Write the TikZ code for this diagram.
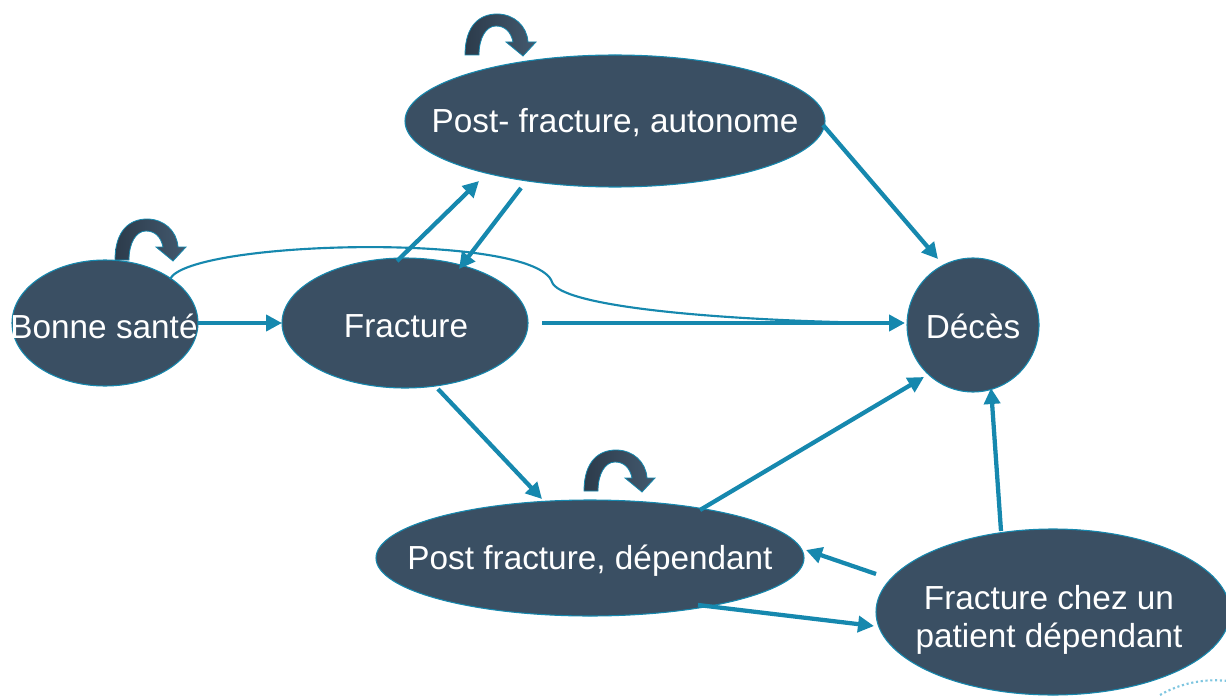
\documentclass[tikz,border=0pt]{standalone}
\usepackage{fontspec}
\setmainfont{Liberation Sans}
\usetikzlibrary{arrows.meta,shapes.geometric}
\definecolor{nodefill}{HTML}{3A4F63}
\definecolor{teal}{HTML}{1688AE}
\definecolor{loopdark}{HTML}{2C3B4B}
\definecolor{looplight}{HTML}{43596E}
\definecolor{dotc}{HTML}{7FC6E0}
\tikzset{
  state/.style={ellipse, draw=teal, line width=0.8pt, fill=nodefill, text=white, inner sep=0pt,
    font=\fontsize{25}{29}\selectfont, align=center},
  statetext/.style={text=white, inner sep=0pt, font=\fontsize{25}{29}\selectfont},
  flow/.style={draw=teal, line width=3.2pt, -{Triangle[length=12pt,width=12pt]}},
  thinflow/.style={draw=teal, line width=1.6pt},
  loopbody/.style={draw=teal, line width=0.6pt, left color=loopdark, right color=looplight},
  selfloop/.pic={
    \path[loopbody] (0,0) .. controls (0,-30) and (15,-41) .. (32,-41)
      .. controls (49,-41) and (62,-29) .. (63,-13) -- (71,-13) -- (58,1) -- (41,-13) -- (48,-13)
      .. controls (46,-23) and (40,-29) .. (31,-29) .. controls (21,-29) and (14,-17) .. (14,0) -- cycle;
  }
}
\begin{document}
\begin{tikzpicture}[x=0.75pt,y=-0.75pt]
\useasboundingbox (0,0) rectangle (1226,695);

% nodes
\node[state, minimum width=186*0.75pt, minimum height=126*0.75pt] (bs) at (105,323) {};
\node[state, minimum width=246*0.75pt, minimum height=130*0.75pt] (fr) at (405,323) {};
\node[state, minimum width=420*0.75pt, minimum height=132*0.75pt] (pa) at (615,121) {};
\node[state, minimum width=132*0.75pt, minimum height=134*0.75pt] (de) at (973,325) {};
\node[state, minimum width=428*0.75pt, minimum height=116*0.75pt] (pd) at (590,558) {};
\node[state, minimum width=354*0.75pt, minimum height=166*0.75pt] (fc) at (1053,612) {};
\node[statetext] (bst) at (104,326) {Bonne santé};
\node[statetext] (frt) at (406,326) {Fracture};
\node[statetext] (pat) at (615,123) {Post- fracture, autonome};
\node[statetext] (det) at (973,326) {Décès};
\node[statetext] (pdt) at (590,561) {Post fracture, dépendant};
\node[statetext, align=center] (fct) at (1049,620) {Fracture chez un\\patient dépendant};

% self loops
\pic at (115,260) {selfloop};
\pic at (465,55) {selfloop};
\pic at (584,491) {selfloop};

% thin curved line
\coordinate (c0) at (170,279);
\coordinate (c1) at (552,282);
\coordinate (c2) at (880,323);
\draw[thinflow] (c0) .. controls (190,240) and (535,232) .. (c1) .. controls (560,305) and (700,320) .. (c2);

% connectors
\coordinate (a1s) at (198,323); \coordinate (a1e) at (282,323);
\draw[flow] (a1s) -- (a1e);
\coordinate (a2s) at (542,323); \coordinate (a2e) at (905,323);
\draw[flow] (a2s) -- (a2e);
\coordinate (a3s) at (397,261); \coordinate (a3e) at (479,181);
\draw[flow] (a3s) -- (a3e);
\coordinate (a4s) at (521,188); \coordinate (a4e) at (459,269);
\draw[flow] (a4s) -- (a4e);
\coordinate (a5s) at (823,125); \coordinate (a5e) at (938,259);
\draw[flow] (a5s) -- (a5e);
\coordinate (a6s) at (438,389); \coordinate (a6e) at (542,499);
\draw[flow] (a6s) -- (a6e);
\coordinate (a7s) at (700,510); \coordinate (a7e) at (924,377);
\draw[flow] (a7s) -- (a7e);
\coordinate (a8s) at (1001,531); \coordinate (a8e) at (991,388);
\draw[flow] (a8s) -- (a8e);
\coordinate (a9s) at (876,574); \coordinate (a9e) at (806,550);
\draw[flow] (a9s) -- (a9e);
\coordinate (a10s) at (698,605); \coordinate (a10e) at (874,626);
\draw[flow] (a10s) -- (a10e);

% dotted arc bottom right
\draw[dotc, line width=1.6pt, dotted] (1160,695) arc[start angle=240, end angle=290, radius=110];
\end{tikzpicture}
\end{document}
